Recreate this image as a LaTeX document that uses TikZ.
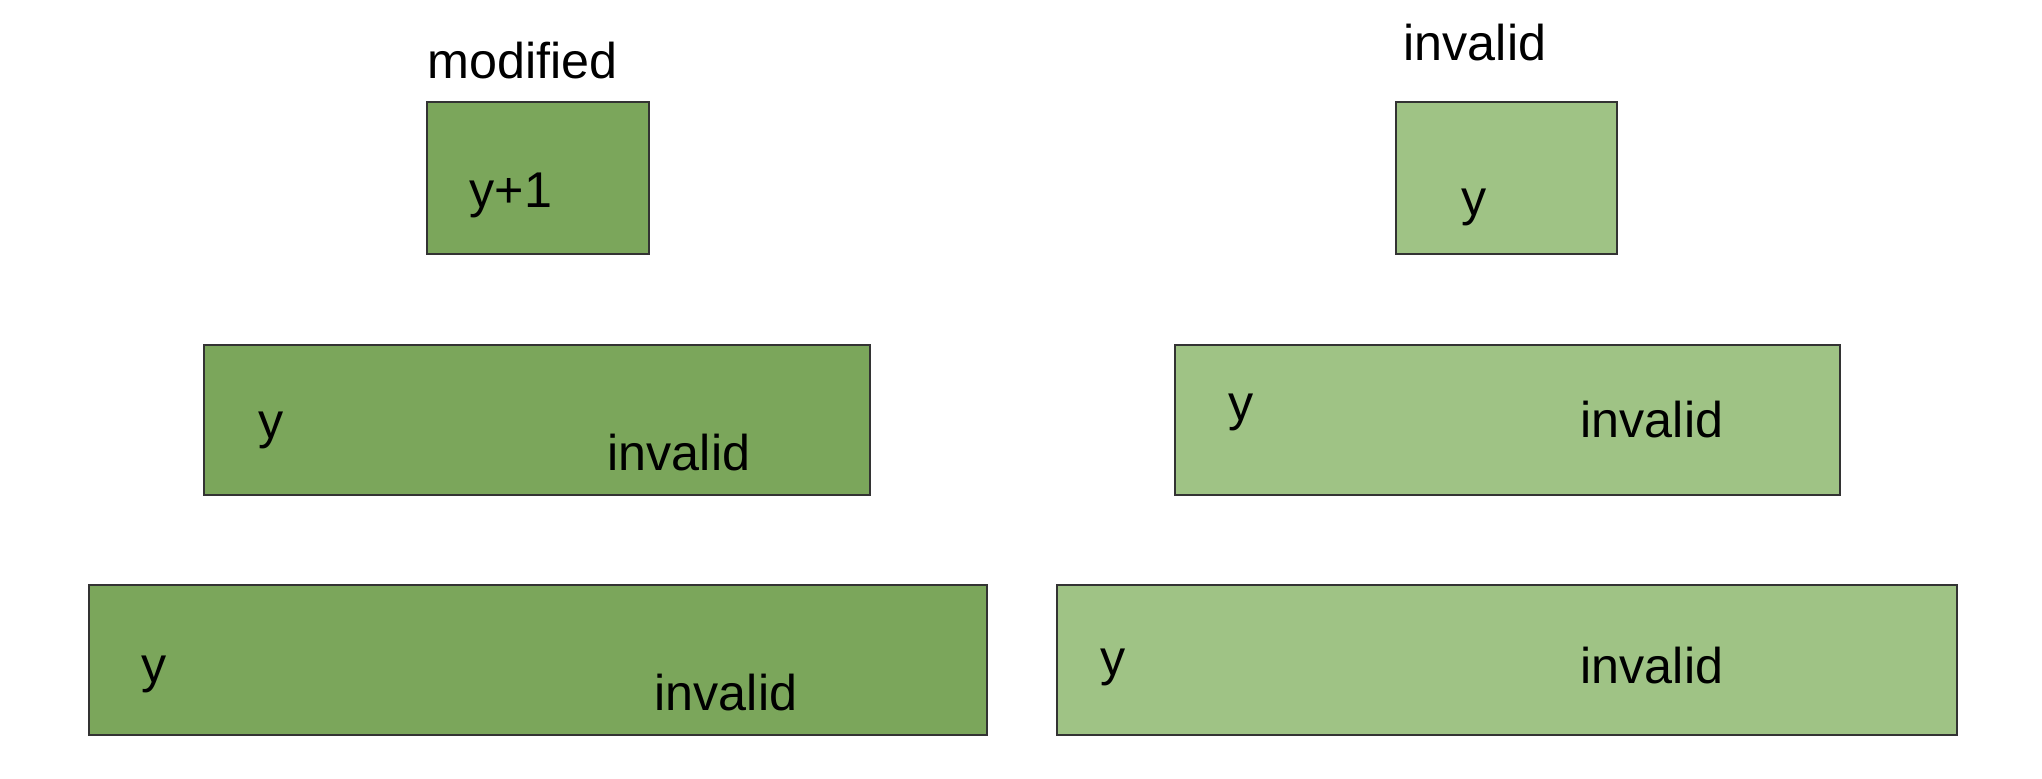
\documentclass[tikz,border=0pt]{standalone}
\usepackage{fontspec}
\setmainfont{Liberation Sans}
\usepackage{xcolor}
\usepackage{tikz}
\usetikzlibrary{positioning}
\definecolor{darkleaf}{HTML}{7BA65B}
\definecolor{lightleaf}{HTML}{9FC385}
\definecolor{edge}{HTML}{333333}
\tikzset{
  slab/.style    = {rectangle, draw=edge, line width=0.6pt, minimum height=1.5cm,
                    inner sep=0pt},
  olddata/.style = {slab, fill=darkleaf},
  newdata/.style = {slab, fill=lightleaf},
  word/.style    = {anchor=base west, inner sep=0pt, font=\fontsize{14.3}{17}\selectfont},
}
\begin{document}
\begin{tikzpicture}
  \useasboundingbox (0,0) rectangle (20.42,7.78);

  % left column
  \node[olddata, minimum width=2.22cm, minimum height=1.52cm] (l1) at (5.38,6.00) {};
  \node[olddata, minimum width=6.66cm] (l2) at (5.37,3.58) {};
  \node[olddata, minimum width=8.98cm] (l3) at (5.38,1.18) {};
  \node[word] (l0t) at (4.27,7.00) {modified};
  \node[word] (l1y) at (4.69,5.71) {y+1};
  \node[word] (l2y) at (2.58,3.40) {y};
  \node[word] (l2i) at (6.07,3.08) {invalid};
  \node[word] (l3y) at (1.41,0.96) {y};
  \node[word] (l3i) at (6.54,0.68) {invalid};

  % right column
  \node[newdata, minimum width=2.21cm, minimum height=1.52cm] (r1) at (15.065,6.00) {};
  \node[newdata, minimum width=6.65cm] (r2) at (15.075,3.58) {};
  \node[newdata, minimum width=9.00cm] (r3) at (15.07,1.18) {};
  \node[word] (r0t) at (14.03,7.18) {invalid};
  \node[word] (r1y) at (14.61,5.63) {y};
  \node[word] (r2y) at (12.28,3.58) {y};
  \node[word] (r2i) at (15.80,3.41) {invalid};
  \node[word] (r3y) at (11.00,1.03) {y};
  \node[word] (r3i) at (15.80,0.95) {invalid};

\end{tikzpicture}
\end{document}
